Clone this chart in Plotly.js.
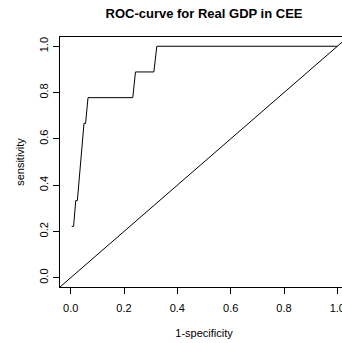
<!DOCTYPE html>
<html>
<head>
<meta charset="utf-8">
<script src="https://cdn.plot.ly/plotly-3.0.1.min.js"></script>
<style>
html,body{margin:0;padding:0;overflow:hidden;background:#fff;}
#chart{width:348px;height:343px;}
</style>
</head>
<body>
<div id="chart"></div>
<script>
// ROC curve points
var oneMinusSpecificity = [0.004, 0.011, 0.019, 0.025, 0.05, 0.056, 0.065, 0.233, 0.243, 0.312, 0.323, 1.0];
var sensitivity         = [0.222, 0.222, 0.333, 0.333, 0.667, 0.667, 0.778, 0.778, 0.889, 0.889, 1.0, 1.0];
var tickValues = [0, 0.2, 0.4, 0.6, 0.8, 1.0];
var tickLabels = ["0.0", "0.2", "0.4", "0.6", "0.8", "1.0"];

var font = {family: "Liberation Sans, Arial, sans-serif", size: 11, color: "#000"};

var trace = {
  x: oneMinusSpecificity,
  y: sensitivity,
  type: "scatter",
  mode: "lines",
  line: {color: "#000", width: 1},
  hoverinfo: "skip"
};

var axisCommon = {
  range: [-0.04, 1.04],
  tickvals: tickValues,
  ticktext: tickLabels,
  ticks: "outside",
  ticklen: 6,
  tickwidth: 1,
  tickcolor: "#000",
  showgrid: false,
  zeroline: false,
  showline: true,
  linecolor: "#000",
  linewidth: 1,
  mirror: true,
  tickfont: font
};

var layout = {
  width: 348,
  height: 343,
  margin: {l: 60, r: 0, t: 37, b: 56},
  paper_bgcolor: "#fff",
  plot_bgcolor: "#fff",
  showlegend: false,
  font: font,
  title: {
    text: "<b>ROC-curve for Real GDP in CEE</b>",
    font: {family: "Liberation Sans, Arial, sans-serif", size: 13, color: "#000"},
    x: 0.5, xref: "paper", xanchor: "center",
    y: 0.96, yanchor: "middle"
  },
  xaxis: Object.assign({}, axisCommon, {
    title: {text: "1-specificity", font: font, standoff: 16},
    ticklabelstandoff: 5
  }),
  yaxis: Object.assign({}, axisCommon, {
    title: {text: "sensitivity", font: font, standoff: 10},
    tickangle: -90,
    ticklabelstandoff: 1
  }),
  shapes: [{
    type: "line", xref: "paper", yref: "paper",
    x0: 0, y0: 0, x1: 1, y1: 1,
    line: {color: "#000", width: 1}
  }]
};

Plotly.newPlot("chart", [trace], layout, {displayModeBar: false, staticPlot: true});
</script>
</body>
</html>
